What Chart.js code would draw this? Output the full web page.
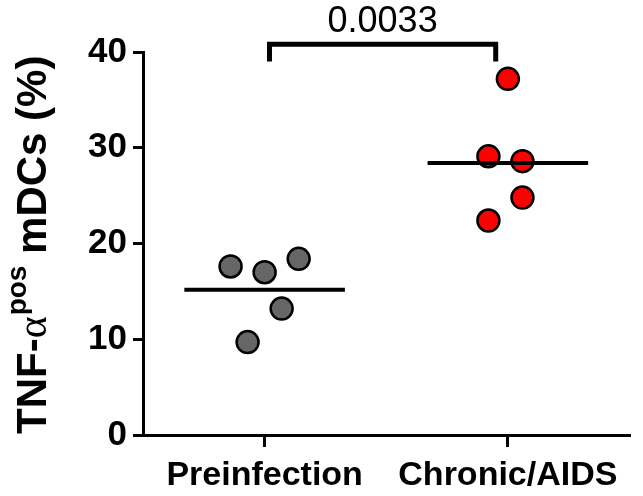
<!DOCTYPE html>
<html>
<head>
<meta charset="utf-8">
<script src="https://cdn.jsdelivr.net/npm/chart.js@4"></script>
<style>
  html, body { margin: 0; padding: 0; background: #fff; }
</style>
</head>
<body>
<canvas id="c" width="643" height="496"></canvas>
<script>
// data
const groups = ['Preinfection', 'Chronic/AIDS'];
const preValues = [17.6, 17.0, 18.4, 13.2, 9.7];
const preJitter = [-0.14, 0.0, 0.14, 0.07, -0.07];
const chronicValues = [37.2, 29.1, 28.6, 24.8, 22.4];
const chronicJitter = [0.0, -0.08, 0.06, 0.06, -0.08];
const yTicks = [0, 10, 20, 30, 40];
const pValue = '0.0033';
const bracketX = [1.02, 1.95];
const bracketY = [39.0, 40.8];

const FONT = '"Liberation Sans", Arial, sans-serif';

const mean = arr => arr.reduce((a, b) => a + b, 0) / arr.length;
const dots = (vals, jit, g) => vals.map((v, i) => ({ x: g + jit[i], y: v }));
const meanLine = (vals, g) => [{ x: g - 0.33, y: mean(vals) }, { x: g + 0.33, y: mean(vals) }];

const extras = {
  id: 'extras',
  afterDraw(chart) {
    const ctx = chart.ctx;
    const xs = chart.scales.x, ys = chart.scales.y;

    // p value above the bracket
    ctx.save();
    ctx.fillStyle = '#000';
    ctx.font = '36px ' + FONT;
    ctx.textAlign = 'center';
    ctx.textBaseline = 'alphabetic';
    const cx = (xs.getPixelForValue(bracketX[0]) + xs.getPixelForValue(bracketX[1])) / 2;
    ctx.fillText(pValue, cx, ys.getPixelForValue(bracketY[1]) - 12);
    ctx.restore();

    // y axis title with superscript
    ctx.save();
    ctx.fillStyle = '#000';
    ctx.translate(46, 434);
    ctx.rotate(-Math.PI / 2);
    ctx.textAlign = 'left';
    ctx.textBaseline = 'alphabetic';
    let x = 0;
    ctx.font = 'bold 42px ' + FONT;
    ctx.fillText('TNF-', x, 0);
    x += ctx.measureText('TNF-').width;
    ctx.font = '42px "Liberation Serif", serif';
    ctx.fillText('α', x, 0);
    x += ctx.measureText('α').width + 1;
    ctx.font = 'bold 28px ' + FONT;
    ctx.fillText('pos', x, -20);
    x += ctx.measureText('pos').width;
    ctx.font = 'bold 42px ' + FONT;
    ctx.fillText(' mDCs (%)', x, 0);
    ctx.restore();
  }
};

const axisGrid = len => ({
  display: true,
  drawOnChartArea: false,
  drawTicks: true,
  tickLength: len,
  color: '#000',
  lineWidth: 3
});

new Chart(document.getElementById('c'), {
  type: 'scatter',
  data: {
    datasets: [
      {
        data: dots(preValues, preJitter, 1),
        backgroundColor: '#666666',
        borderColor: '#000',
        borderWidth: 2.5,
        pointRadius: 11,
        order: 2
      },
      {
        data: dots(chronicValues, chronicJitter, 2),
        backgroundColor: '#ff0000',
        borderColor: '#000',
        borderWidth: 2.5,
        pointRadius: 11,
        order: 2
      },
      {
        type: 'line',
        data: meanLine(preValues, 1),
        borderColor: '#000',
        borderWidth: 4,
        pointRadius: 0,
        order: 1
      },
      {
        type: 'line',
        data: meanLine(chronicValues, 2),
        borderColor: '#000',
        borderWidth: 4,
        pointRadius: 0,
        order: 1
      },
      {
        type: 'line',
        data: [
          { x: bracketX[0], y: bracketY[0] },
          { x: bracketX[0], y: bracketY[1] },
          { x: bracketX[1], y: bracketY[1] },
          { x: bracketX[1], y: bracketY[0] }
        ],
        borderColor: '#000',
        borderWidth: 5,
        borderJoinStyle: 'miter',
        pointRadius: 0,
        clip: false,
        order: 1
      }
    ]
  },
  options: {
    responsive: false,
    devicePixelRatio: 1,
    animation: false,
    layout: { padding: { top: 52, right: 0, left: 0, bottom: 0 } },
    plugins: { legend: { display: false }, tooltip: { enabled: false } },
    scales: {
      x: {
        type: 'linear',
        min: 0.5,
        max: 2.5,
        afterBuildTicks: s => { s.ticks = [{ value: 1 }, { value: 2 }]; },
        afterFit: s => { s.height = 61; },
        ticks: {
          callback: v => groups[v - 1],
          color: '#000',
          font: { family: FONT, size: 34, weight: 'bold' },
          padding: 8,
          maxRotation: 0,
          autoSkip: false
        },
        grid: axisGrid(12),
        border: { display: true, color: '#000', width: 3 }
      },
      y: {
        min: 0,
        max: 40,
        afterBuildTicks: s => { s.ticks = yTicks.map(v => ({ value: v })); },
        afterFit: s => { s.width = 143; },
        ticks: {
          color: '#000',
          font: { family: FONT, size: 35, weight: 'bold' },
          padding: 6
        },
        grid: axisGrid(10),
        border: { display: true, color: '#000', width: 3 }
      }
    }
  },
  plugins: [extras]
});
</script>
</body>
</html>
